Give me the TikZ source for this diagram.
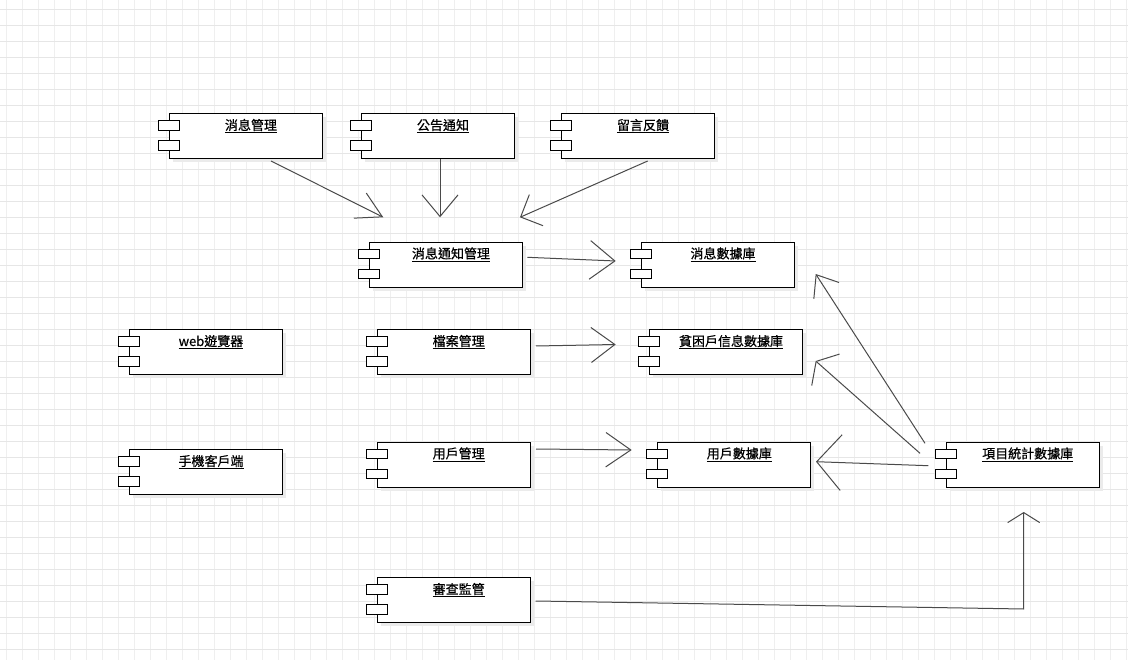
\documentclass[tikz,border=0pt]{standalone}
\usepackage{fontspec}
\setmainfont{Noto Sans CJK TC}[FakeBold=0.6]
\usetikzlibrary{arrows.meta,calc}
\definecolor{gridh}{HTML}{E6E6E6}
\definecolor{gridv}{HTML}{EFEFEF}
\definecolor{connc}{HTML}{4A4A4A}
\tikzset{
  compbox/.style={anchor=north west, draw=black, fill=white, line width=1pt,
    minimum width=153pt, minimum height=45pt, inner sep=0pt},
  compport/.style={draw=black, fill=white, line width=0.8pt,
    minimum width=21pt, minimum height=9.5pt, inner sep=0pt},
  comptext/.style={anchor=base, inner sep=0pt, font=\fontsize{13pt}{15pt}\selectfont},
  compshadow/.style={fill=black!8},
  conn/.style={draw=connc, line width=1pt},
}
\newcommand\mycomp[4]{%
  \fill[compshadow] (#2+4,#3+4) rectangle (#2+157,#3+49);
  \node[compbox] (#1) at (#2,#3) {};
  \node[comptext] (#1t) at ($(#1.north west)+(82,16.7)$) {\underline{#4}};
  \node[compport] (#1pa) at ($(#1.north west)+(0,12)$) {};
  \node[compport] (#1pb) at ($(#1.north west)+(0,32)$) {};
}
\begin{document}
\begin{tikzpicture}[x=1pt,y=-1pt]
\useasboundingbox (0,0) rectangle (1128,660);
\fill[white] (0,0) rectangle (1128,660);
\foreach \gx in {6.7,22.7,...,1128} \draw[gridv, line width=1.2pt] (\gx,0) -- (\gx,660);
\foreach \gy in {9.3,25.3,...,660} \draw[gridh, line width=1pt] (0,\gy) -- (1128,\gy);

\mycomp{xxgl}{169}{113.3}{消息管理}
\mycomp{ggtz}{361}{113.3}{公告通知}
\mycomp{lyfk}{561}{113.3}{留言反饋}
\mycomp{xxtzgl}{369}{241.7}{消息通知管理}
\mycomp{xxsjk}{641}{241.7}{消息數據庫}
\mycomp{web}{129}{329.3}{web遊覽器}
\mycomp{dagl}{376.7}{329.3}{檔案管理}
\mycomp{pkh}{649}{329.3}{貧困戶信息數據庫}
\mycomp{sjkhd}{129}{449.3}{手機客戶端}
\mycomp{yhgl}{376.7}{441.7}{用戶管理}
\mycomp{yhsjk}{657.3}{441.7}{用戶數據庫}
\mycomp{xmtj}{945.7}{441.7}{項目統計數據庫}
\mycomp{scjg}{376.7}{577.3}{審查監管}

\draw[conn, -{Straight Barb[length=25pt,width=28pt]}]
  ($(xxgl.north west)+(102,47.7)$) -- ($(xxtzgl.north west)+(14.3,-24.4)$);
\draw[conn, -{Straight Barb[length=21.6pt,width=36pt]}]
  ($(ggtz.north west)+(79,46)$) -- ($(xxtzgl.north west)+(71,-24.4)$);
\draw[conn, -{Straight Barb[length=17pt,width=34pt]}]
  ($(lyfk.north west)+(86.7,47.7)$) -- ($(xxtzgl.north west)+(151,-24.4)$);
\draw[conn, -{Straight Barb[length=25pt,width=38.6pt]}]
  ($(xxtzgl.north west)+(158.3,15.6)$) -- ($(xxsjk.north west)+(-25.3,19.3)$);
\draw[conn, -{Straight Barb[length=23.7pt,width=35pt]}]
  ($(dagl.north west)+(159.3,16.7)$) -- ($(pkh.north west)+(-33.3,15.2)$);
\draw[conn, -{Straight Barb[length=25pt,width=34.4pt]}]
  ($(yhgl.north west)+(159.3,7.3)$) -- ($(yhsjk.north west)+(-25.6,8.3)$);
\draw[conn, -{Straight Barb[length=24.5pt,width=55.7pt]}]
  ($(xmtj.north west)+(-17.4,24)$) -- ($(yhsjk.north west)+(158.7,20)$);
\draw[conn, -{Straight Barb[length=12.7pt,width=42pt]}]
  ($(xmtj.north west)+(-25.7,11.6)$) -- ($(pkh.north west)+(166.7,31.7)$);
\draw[conn, -{Straight Barb[length=19pt,width=30pt]}]
  ($(xmtj.north west)+(-20.7,1.6)$) -- ($(xxsjk.north west)+(174.7,32.3)$);
\coordinate (bend) at ($(xmtj.north west)+(78,167.3)$);
\draw[conn, -{Straight Barb[length=10pt,width=32pt]}]
  ($(scjg.north west)+(158.9,23.7)$) -- (bend) -- ($(xmtj.north west)+(78,70.3)$);
\end{tikzpicture}
\end{document}
